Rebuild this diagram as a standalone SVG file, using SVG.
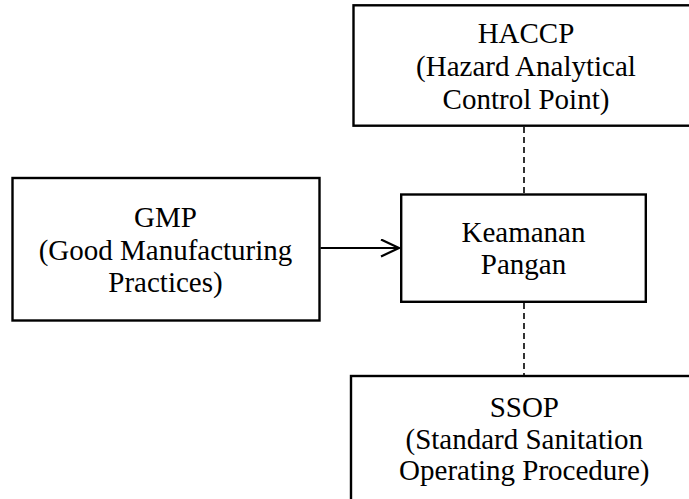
<svg xmlns="http://www.w3.org/2000/svg" width="689" height="499" viewBox="0 0 689 499">
<style>
.box{fill:#fff;stroke:#000;stroke-width:2.4}
text{font-family:'Liberation Serif','Times New Roman','DejaVu Serif',serif;font-size:29px;fill:#000;text-anchor:middle}
.dash{stroke:#000;stroke-width:1.6;stroke-dasharray:6,4;fill:none}
.arr{stroke:#000;stroke-width:2.2;fill:none}
</style>
<defs>
<marker id="chev" markerUnits="userSpaceOnUse" markerWidth="24" markerHeight="24" refX="19" refY="9" orient="auto">
<path d="M1,0.5 L19,9 L1,17.5" fill="none" stroke="#000" stroke-width="2.2"/>
</marker>
</defs>
<g id="connectors">
<line class="dash" x1="524" y1="127" x2="524" y2="193"/>
<line class="dash" x1="524" y1="303" x2="524" y2="375"/>
<line class="arr" x1="320.5" y1="248" x2="399" y2="248" marker-end="url(#chev)"/>
</g>
<g id="haccp">
<rect class="box" x="353.5" y="5.3" width="360" height="120.4"/>
<text x="526" y="43">HACCP</text>
<text x="526" y="76">(Hazard Analytical</text>
<text x="526" y="109">Control Point)</text>
</g>
<g id="gmp">
<rect class="box" x="12.5" y="178" width="307" height="142.5"/>
<text x="165.5" y="227">GMP</text>
<text x="165.5" y="259.5">(Good Manufacturing</text>
<text x="165.5" y="292">Practices)</text>
</g>
<g id="keamanan">
<rect class="box" x="401.2" y="194.5" width="244.6" height="107.3"/>
<text x="523.5" y="241.7">Keamanan</text>
<text x="523.5" y="273.5">Pangan</text>
</g>
<g id="ssop">
<rect class="box" x="351" y="376" width="360" height="140"/>
<text x="524.3" y="416.7">SSOP</text>
<text x="524.3" y="448.5">(Standard Sanitation</text>
<text x="524.3" y="480">Operating Procedure)</text>
</g>
</svg>
